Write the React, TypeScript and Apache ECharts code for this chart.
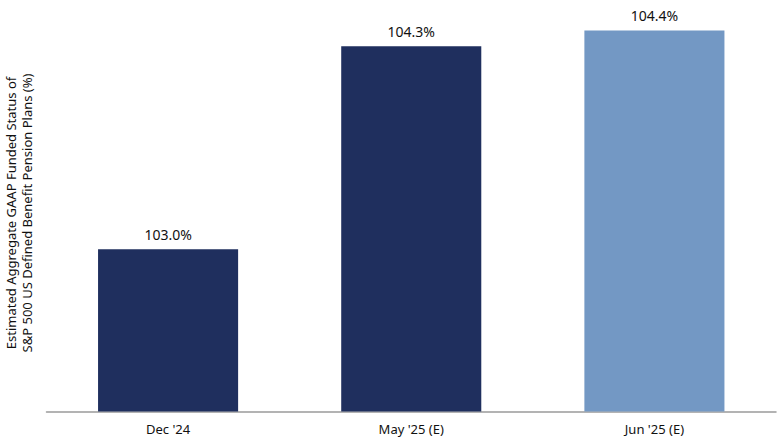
import React, { useEffect, useRef } from "react";
import * as echarts from "echarts";

const categories = ["Dec '24", "May '25 (E)", "Jun '25 (E)"];
const fundedStatus = [103.0, 104.3, 104.4];
const barColors = ["#1F2F5E", "#1F2F5E", "#7398C4"];
const yTitleLines = [
  "Estimated Aggregate GAAP Funded Status of",
  "S&P 500 US Defined Benefit Pension Plans (%)",
];

const FONT = "'Noto Sans', sans-serif";

export default function App() {
  const ref = useRef<HTMLDivElement>(null);
  useEffect(() => {
    if (!ref.current) return;
    const chart = echarts.init(ref.current, undefined, { renderer: "svg" });
    chart.setOption({
      animation: false,
      backgroundColor: "#ffffff",
      textStyle: { fontFamily: FONT },
      grid: { left: 46.5, right: 4, top: 15, bottom: 28.5, containLabel: false },
      xAxis: {
        type: "category",
        data: categories,
        axisLine: { show: true, lineStyle: { color: "#9a9a9a", width: 1.5 } },
        axisTick: { show: false },
        axisLabel: { color: "#111", fontSize: 13, margin: 11, fontFamily: FONT },
      },
      yAxis: {
        type: "value",
        min: 101.96,
        max: 104.5,
        show: false,
        splitLine: { show: false },
      },
      series: [
        {
          type: "bar",
          data: fundedStatus.map((v, i) => ({ value: v, itemStyle: { color: barColors[i] } })),
          barWidth: "57.6%",
          label: {
            show: true,
            position: "top",
            distance: 8,
            color: "#111",
            fontSize: 14,
            fontFamily: FONT,
            formatter: (p: any) => `${Number(p.value).toFixed(1)}%`,
          },
        },
      ],
      graphic: [
        {
          type: "text",
          x: 19,
          y: 213,
          rotation: Math.PI / 2,
          style: {
            text: yTitleLines.join("\n"),
            font: `13px ${FONT}`,
            fill: "#111",
            align: "center",
            verticalAlign: "middle",
            lineHeight: 16,
          },
        },
      ],
    });
    return () => chart.dispose();
  }, []);
  return <div ref={ref} style={{ width: 780, height: 440, position: "absolute", left: 0, top: 0 }} />;
}
